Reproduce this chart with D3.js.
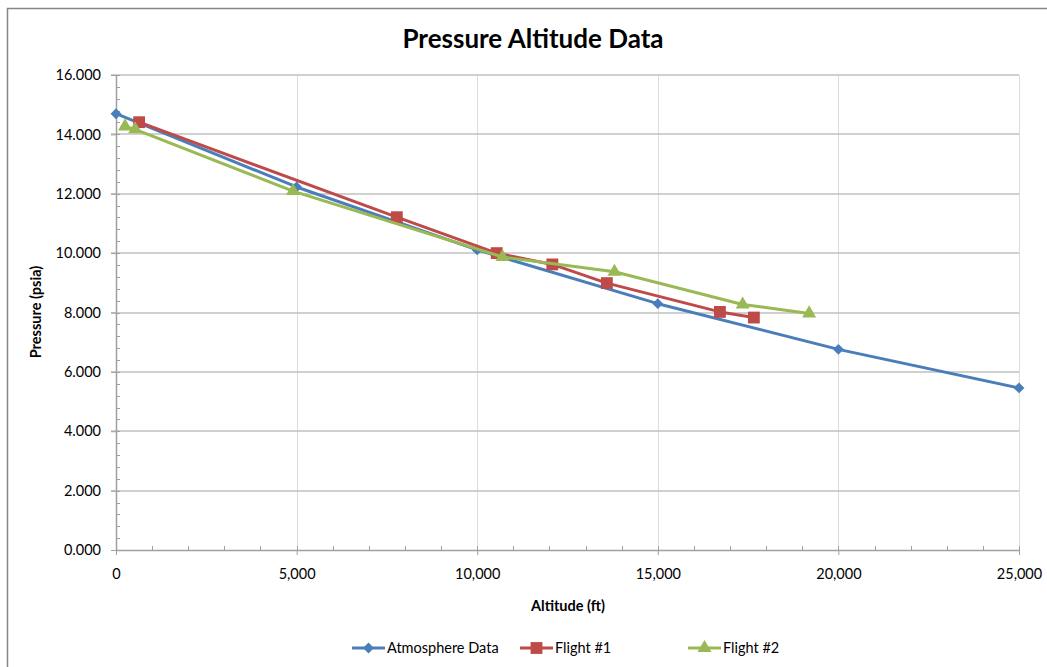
<!DOCTYPE html>
<html>
<head>
<meta charset="utf-8">
<script src="https://cdn.jsdelivr.net/npm/d3@7"></script>
<style>
  body { margin: 0; background: #fff; }
  text { font-family: Lato, "Open Sans", sans-serif; fill: #000; }
</style>
</head>
<body>
<svg id="chart"></svg>
<script>
var WIDTH = 1047;
var HEIGHT = 667;

// altitude (ft) / pressure (psia)
var atmosAlt = [0, 5000, 10000, 15000, 20000, 25000];
var atmosPsi = [14.696, 12.228, 10.108, 8.297, 6.759, 5.461];

var flight1Alt = [640, 7775, 10540, 12080, 13590, 16720, 17660];
var flight1Psi = [14.41, 11.21, 10.0, 9.62, 8.99, 8.02, 7.83];

var flight2Alt = [250, 530, 4900, 10700, 13800, 17350, 19190];
var flight2Psi = [14.27, 14.17, 12.09, 9.87, 9.37, 8.27, 7.97];

var xTicks = [0, 5000, 10000, 15000, 20000, 25000];
var yTicks = [0, 2, 4, 6, 8, 10, 12, 14, 16];

var seriesNames = ["Atmosphere Data", "Flight #1", "Flight #2"];
var seriesColors = ["#4a7ebb", "#be4b48", "#98b954"];
var seriesMarkers = [d3.symbolDiamond2, d3.symbolSquare, d3.symbolTriangle];

var margin = {left: 116, right: 28, top: 75, bottom: 117};

var svg = d3.select("#chart")
    .attr("width", WIDTH)
    .attr("height", HEIGHT);

// outer chart frame
svg.append("rect")
    .attr("x", 7.5).attr("y", 8.5)
    .attr("width", 1060).attr("height", 680)
    .attr("fill", "none")
    .attr("stroke", "#868686")
    .attr("stroke-width", 1.5);

var x = d3.scaleLinear().domain([0, 25000]).range([margin.left, WIDTH - margin.right]);
var y = d3.scaleLinear().domain([0, 16]).range([HEIGHT - margin.bottom, margin.top]);

// grid
svg.append("g")
    .selectAll("line")
    .data(xTicks.slice(1))
    .enter().append("line")
    .attr("x1", function(d) { return Math.round(x(d)) + 0.5; })
    .attr("x2", function(d) { return Math.round(x(d)) + 0.5; })
    .attr("y1", y(16)).attr("y2", y(0))
    .attr("stroke", "#dcdcdc")
    .attr("stroke-width", 1);

svg.append("g")
    .selectAll("line")
    .data(yTicks.slice(1))
    .enter().append("line")
    .attr("x1", x(0) - 5).attr("x2", x(25000))
    .attr("y1", function(d) { return Math.round(y(d)); })
    .attr("y2", function(d) { return Math.round(y(d)); })
    .attr("stroke", "#c0c0c0")
    .attr("stroke-width", 1.5);

// minor ticks point inward
var xMinor = d3.range(0, 25001, 1000);
var yMinor = d3.range(0, 16.01, 0.4);

svg.append("g")
    .selectAll("line")
    .data(xMinor)
    .enter().append("line")
    .attr("x1", function(d) { return Math.round(x(d)) + 0.5; })
    .attr("x2", function(d) { return Math.round(x(d)) + 0.5; })
    .attr("y1", y(0)).attr("y2", y(0) - 4)
    .attr("stroke", "#a0a0a0");

svg.append("g")
    .selectAll("line")
    .data(yMinor)
    .enter().append("line")
    .attr("x1", x(0)).attr("x2", x(0) + 4)
    .attr("y1", function(d) { return Math.round(y(d)) + 0.5; })
    .attr("y2", function(d) { return Math.round(y(d)) + 0.5; })
    .attr("stroke", "#a0a0a0");

// axes
var xAxis = d3.axisBottom(x)
    .tickValues(xTicks)
    .tickFormat(d3.format(","))
    .tickSizeInner(5)
    .tickSizeOuter(0)
    .tickPadding(14);

var yAxis = d3.axisLeft(y)
    .tickValues(yTicks)
    .tickFormat(d3.format(".3f"))
    .tickSizeInner(5)
    .tickSizeOuter(0)
    .tickPadding(10);

var gx = svg.append("g")
    .attr("transform", "translate(0," + y(0) + ")")
    .call(xAxis);

var gy = svg.append("g")
    .attr("transform", "translate(" + x(0) + ",0)")
    .call(yAxis);

[gx, gy].forEach(function(g) {
    g.select(".domain").attr("stroke", "#a0a0a0").attr("stroke-width", 1.5);
    g.selectAll(".tick line").attr("stroke", "#a0a0a0");
    g.selectAll(".tick text")
        .attr("font-family", "Lato, sans-serif")
        .attr("font-size", 14.5)
        .attr("fill", "#222");
});

// series
var series = [
    {alt: atmosAlt, psi: atmosPsi},
    {alt: flight1Alt, psi: flight1Psi},
    {alt: flight2Alt, psi: flight2Psi}
];

var line = d3.line()
    .x(function(d) { return x(d[0]); })
    .y(function(d) { return y(d[1]); });

var markerSizes = [75, 140, 85];

series.forEach(function(s, i)
{
    var pts = d3.zip(s.alt, s.psi);
    svg.append("path")
        .datum(pts)
        .attr("d", line)
        .attr("fill", "none")
        .attr("stroke", seriesColors[i])
        .attr("stroke-width", 3)
        .attr("stroke-linejoin", "round");

    svg.append("g")
        .selectAll("path")
        .data(pts)
        .enter().append("path")
        .attr("transform", function(d) { return "translate(" + x(d[0]) + "," + y(d[1]) + ")"; })
        .attr("d", d3.symbol().type(seriesMarkers[i]).size(markerSizes[i]))
        .attr("fill", seriesColors[i]);
});

// titles
svg.append("text")
    .attr("x", 533).attr("y", 48)
    .attr("text-anchor", "middle")
    .attr("font-size", 26)
    .attr("font-weight", "bold")
    .text("Pressure Altitude Data");

svg.append("text")
    .attr("x", 568).attr("y", 611)
    .attr("text-anchor", "middle")
    .attr("font-size", 14.5)
    .attr("font-weight", "bold")
    .text("Altitude (ft)");

svg.append("text")
    .attr("transform", "translate(41,312) rotate(-90)")
    .attr("text-anchor", "middle")
    .attr("font-size", 14.5)
    .attr("font-weight", "bold")
    .text("Pressure (psia)");

// legend
var legendX = [352, 520, 688];
var legend = svg.append("g")
    .selectAll("g")
    .data(seriesNames)
    .enter().append("g")
    .attr("transform", function(d, i) { return "translate(" + legendX[i] + ",648)"; });

legend.append("line")
    .attr("x1", 0).attr("x2", 33)
    .attr("stroke", function(d, i) { return seriesColors[i]; })
    .attr("stroke-width", 3);

legend.append("path")
    .attr("transform", "translate(16.5,0)")
    .attr("d", function(d, i) { return d3.symbol().type(seriesMarkers[i]).size(markerSizes[i])(); })
    .attr("fill", function(d, i) { return seriesColors[i]; });

legend.append("text")
    .attr("x", 35).attr("y", 5)
    .attr("font-size", 14.5)
    .attr("fill", "#222")
    .text(function(d) { return d; });
</script>
</body>
</html>
